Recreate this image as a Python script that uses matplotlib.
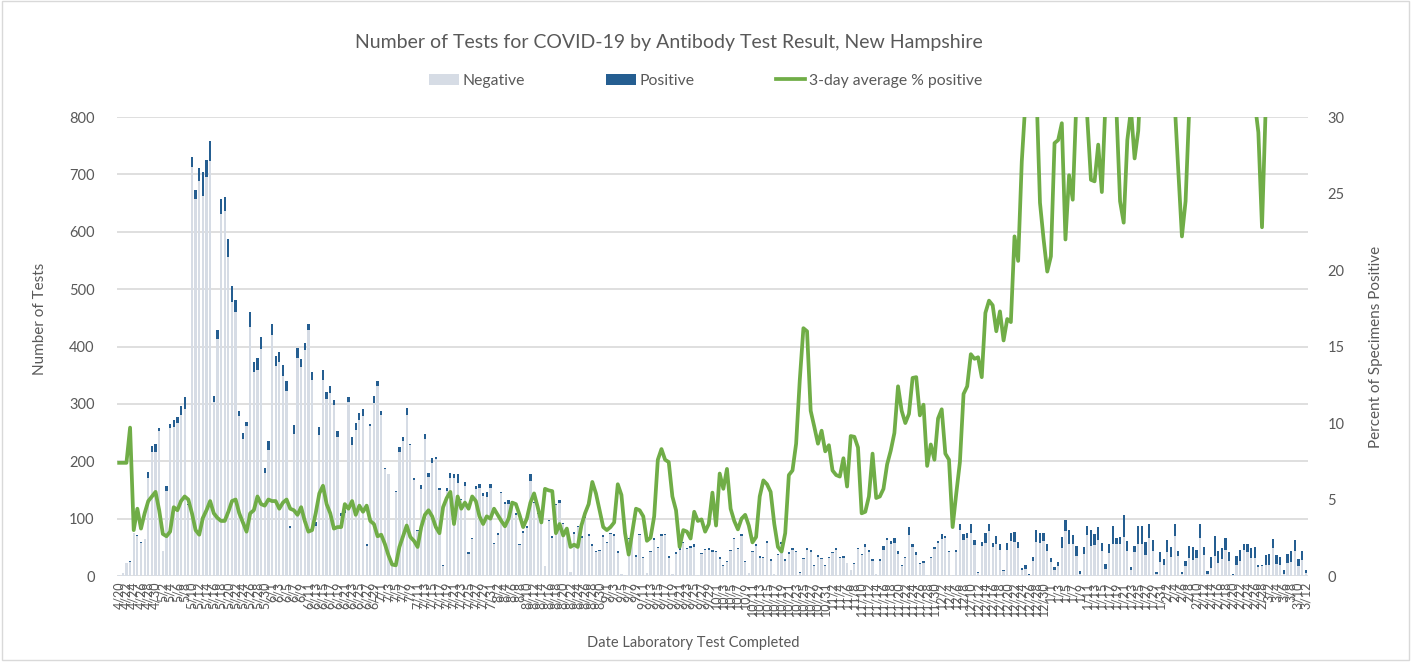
import datetime as dt
import matplotlib
matplotlib.use("Agg")
import matplotlib.pyplot as plt
from matplotlib.patches import Rectangle

plt.rcParams['font.family'] = ['Lato', 'DejaVu Sans']

# daily data, 4/20/2020 .. 3/12/2021
start = dt.date(2020, 4, 20)
total = [
    2, 6, 23, 27, 75, 71, 60, 65, 182, 226,
    230, 258, 43, 157, 265, 272, 278, 296, 312, 126,
    731, 673, 712, 704, 726, 758, 313, 429, 657, 660,
    587, 505, 481, 287, 249, 268, 460, 373, 380, 416,
    189, 236, 439, 384, 391, 368, 340, 88, 264, 398,
    379, 406, 439, 355, 94, 260, 360, 321, 332, 306,
    252, 109, 115, 312, 242, 267, 285, 291, 55, 265,
    313, 340, 287, 189, 178, 20, 149, 225, 242, 293,
    231, 171, 80, 158, 247, 180, 205, 208, 153, 20,
    153, 180, 177, 177, 135, 164, 41, 66, 157, 160,
    145, 147, 160, 58, 75, 147, 129, 132, 131, 109,
    56, 78, 88, 177, 129, 110, 100, 17, 98, 69,
    126, 132, 93, 85, 7, 76, 88, 69, 104, 73,
    55, 43, 46, 71, 59, 75, 74, 44, 3, 2,
    67, 77, 37, 74, 33, 5, 43, 66, 51, 73,
    74, 35, 3, 41, 48, 60, 49, 52, 55, 2,
    40, 47, 49, 46, 44, 33, 19, 26, 46, 67,
    49, 74, 26, 5, 44, 55, 35, 33, 61, 29,
    3, 38, 59, 29, 42, 48, 44, 7, 32, 48,
    45, 19, 37, 32, 19, 33, 42, 49, 33, 35,
    23, 11, 23, 49, 38, 56, 46, 30, 4, 29,
    52, 67, 61, 67, 44, 19, 33, 85, 55, 41,
    23, 26, 2, 33, 51, 61, 74, 69, 44, 2,
    45, 91, 73, 75, 91, 63, 7, 60, 75, 91,
    58, 69, 56, 11, 58, 75, 77, 60, 14, 19,
    3, 34, 81, 75, 75, 55, 32, 16, 24, 68,
    97, 81, 72, 52, 8, 51, 88, 81, 74, 85,
    58, 21, 56, 87, 66, 68, 106, 61, 16, 52,
    87, 87, 59, 91, 62, 7, 41, 29, 62, 51,
    91, 44, 7, 26, 52, 51, 46, 90, 51, 8,
    33, 70, 44, 49, 67, 41, 4, 35, 46, 55,
    56, 49, 51, 19, 20, 36, 38, 65, 36, 33,
    11, 38, 44, 63, 30, 44, 10,
]
positive = [
    0, 1, 0, 2, 0, 2, 2, 0, 12, 9,
    13, 6, 0, 8, 7, 12, 12, 15, 20, 2,
    18, 16, 23, 41, 31, 35, 10, 16, 26, 24,
    31, 27, 20, 8, 10, 7, 26, 18, 20, 20,
    9, 16, 18, 18, 18, 20, 18, 4, 16, 18,
    14, 12, 10, 13, 7, 15, 19, 12, 13, 8,
    10, 4, 5, 9, 13, 12, 13, 12, 3, 3,
    12, 9, 7, 3, 0, 0, 3, 9, 6, 12,
    3, 3, 2, 6, 9, 8, 8, 4, 3, 3,
    4, 9, 6, 14, 3, 7, 2, 2, 6, 6,
    5, 9, 6, 3, 3, 3, 4, 7, 2, 3,
    2, 3, 4, 12, 2, 2, 2, 0, 2, 2,
    3, 4, 2, 2, 0, 2, 3, 2, 3, 3,
    3, 2, 2, 3, 2, 2, 5, 4, 0, 0,
    3, 2, 3, 3, 2, 0, 2, 3, 3, 3,
    3, 3, 0, 2, 2, 3, 2, 3, 4, 0,
    2, 2, 3, 4, 2, 3, 2, 2, 2, 2,
    2, 4, 2, 0, 2, 3, 3, 2, 3, 3,
    0, 2, 3, 2, 3, 3, 3, 1, 3, 3,
    3, 2, 3, 3, 1, 2, 2, 4, 2, 3,
    1, 1, 2, 2, 2, 5, 4, 3, 0, 2,
    6, 4, 6, 9, 6, 1, 2, 13, 4, 4,
    2, 3, 0, 2, 4, 4, 9, 2, 2, 0,
    3, 10, 10, 9, 16, 9, 2, 7, 17, 13,
    7, 14, 10, 2, 13, 14, 17, 11, 4, 6,
    1, 8, 21, 17, 14, 11, 8, 5, 6, 19,
    19, 26, 17, 17, 4, 13, 17, 28, 20, 23,
    15, 9, 16, 31, 11, 13, 38, 17, 6, 10,
    31, 31, 22, 25, 19, 4, 16, 10, 20, 17,
    22, 9, 3, 9, 20, 23, 15, 24, 14, 4,
    19, 35, 22, 19, 22, 15, 3, 16, 19, 10,
    15, 18, 19, 4, 2, 17, 19, 17, 15, 13,
    7, 16, 19, 19, 13, 16, 4,
]
negative = [t - p for t, p in zip(total, positive)]

pct_positive = [
    7.4, 7.4, 7.4, 9.7, 3.0, 4.4, 3.1, 4.1, 4.9, 5.2,
    5.5, 4.3, 2.75, 2.6, 2.9, 4.5, 4.3, 4.9, 5.2, 5.0,
    4.1, 3.0, 2.7, 3.8, 4.3, 4.9, 4.1, 3.8, 3.6, 3.6,
    4.2, 4.9, 5.0, 4.1, 3.5, 2.9, 4.1, 4.3, 5.2, 4.7,
    4.6, 5.0, 4.9, 4.9, 4.4, 4.8, 5.0, 4.4, 4.3, 4.0,
    4.5, 3.6, 2.9, 3.0, 4.1, 5.4, 5.9, 4.7, 4.1, 3.1,
    3.2, 3.2, 4.7, 4.4, 4.9, 4.0, 4.6, 4.2, 4.6, 3.6,
    3.4, 2.6, 2.7, 2.1, 1.35, 0.75, 0.7, 1.9, 2.6, 3.3,
    2.55, 2.3, 1.9, 3.2, 4.0, 4.3, 3.9, 3.2, 2.8, 4.5,
    5.1, 5.5, 3.4, 5.2, 4.4, 4.8, 4.4, 5.2, 4.9, 3.9,
    3.4, 3.9, 3.75, 4.4, 4.0, 3.6, 3.25, 3.75, 4.8, 4.7,
    4.0, 3.2, 3.75, 4.8, 5.4, 4.5, 3.5, 5.7, 5.6, 5.55,
    2.8, 3.4, 2.65, 3.1, 1.9, 2.05, 1.9, 3.3, 4.1, 4.7,
    6.15, 5.4, 4.3, 3.2, 3.0, 3.2, 3.5, 6.0, 5.3, 2.8,
    1.4, 2.9, 4.4, 4.3, 3.9, 2.3, 2.5, 3.9, 7.6, 8.3,
    7.6, 7.45, 5.2, 4.3, 1.9, 3.0, 2.9, 2.45, 4.2, 3.6,
    3.7, 2.9, 3.4, 5.45, 3.3, 6.7, 5.7, 7.0, 4.4, 3.6,
    3.05, 3.75, 4.0, 3.3, 2.2, 2.55, 5.2, 6.25, 6.0, 5.5,
    3.4, 1.9, 1.6, 2.8, 6.6, 6.9, 8.65, 12.8, 16.2, 16.0,
    10.8, 9.75, 8.65, 9.5, 8.15, 8.55, 6.9, 6.6, 6.5, 7.7,
    5.85, 9.15, 9.1, 8.4, 4.1, 4.2, 5.2, 8.0, 5.1, 5.2,
    5.7, 7.3, 8.2, 9.35, 12.4, 10.8, 10.0, 10.6, 12.95, 13.0,
    10.5, 11.2, 7.2, 8.6, 7.6, 10.3, 10.9, 8.0, 7.6, 3.2,
    5.4, 7.45, 11.9, 12.4, 14.5, 14.2, 14.3, 13.0, 17.2, 18.0,
    17.7, 16.0, 17.3, 15.4, 16.8, 16.6, 22.2, 20.6, 27.1, 31.0,
    36.0, 38.0, 32.0, 24.4, 22.0, 19.9, 20.9, 28.3, 28.5, 29.6,
    22.0, 26.2, 24.6, 31.0, 35.0, 34.0, 30.0, 25.9, 25.8, 28.2,
    25.1, 31.0, 35.0, 33.0, 30.5, 24.5, 23.1, 28.5, 30.5, 27.3,
    29.1, 34.0, 36.0, 38.0, 40.0, 38.0, 36.0, 37.0, 35.0, 33.0,
    31.0, 26.5, 22.2, 24.5, 30.5, 35.0, 38.0, 40.0, 40.0, 38.0,
    36.0, 38.0, 40.0, 40.0, 38.0, 36.0, 38.0, 40.0, 38.0, 36.0,
    35.0, 33.0, 31.0, 29.0, 22.8, 30.5, 33.0, 36.0, 38.0, 40.0,
    40.0, 38.0, 40.0, 42.0, 40.0, 38.0, 40.0,
]

dates = [start + dt.timedelta(days=k) for k in range(len(total))]
labels = [f"{d.month}/{d.day}" for d in dates]
x = list(range(len(dates)))

grey = '#595959'
fig = plt.figure(figsize=(14.11, 6.68), dpi=100)
fig.patches.append(Rectangle((0.0015, 0.012), 0.997, 0.986, transform=fig.transFigure,
                             fill=False, edgecolor='#d9d9d9', lw=1))

ax = fig.add_axes([0.0829, 0.1377, 0.844, 0.687])
ax.bar(x, negative, width=0.62, color='#d6dce5', label='Negative', zorder=2)
ax.bar(x, positive, bottom=negative, width=0.62, color='#255e91', label='Positive', zorder=2)
ax.set_ylim(0, 800)
ax.set_xlim(-0.6, len(x) - 0.4)
ax.set_yticks(range(0, 801, 100))
ax.yaxis.grid(True, color='#d9d9d9', lw=1.2, zorder=0)
ax.set_axisbelow(True)
for s in ax.spines.values():
    s.set_visible(False)
ax.set_xticks(x[::2])
ax.set_xticklabels(labels[::2], rotation=90, fontsize=9, color=grey)
ax.tick_params(axis='both', length=0, colors=grey)
ax.tick_params(axis='y', labelsize=10.5, pad=16)
ax.tick_params(axis='x', pad=4)
ax.set_ylabel('Number of Tests', fontsize=11, color=grey)
ax.yaxis.set_label_coords(-0.059, 0.56)
ax.set_xlabel('Date Laboratory Test Completed', fontsize=10.5, color=grey)
ax.xaxis.set_label_coords(0.484, -0.13)

ax2 = ax.twinx()
ax2.plot(x, pct_positive, color='#70ad47', lw=2.7, label='3-day average % positive',
         solid_joinstyle='round', zorder=3)
ax2.set_ylim(0, 30)
ax2.set_yticks(range(0, 31, 5))
for s in ax2.spines.values():
    s.set_visible(False)
ax2.tick_params(axis='y', length=0, colors=grey, labelsize=10.5, pad=14)
ax2.set_ylabel('Percent of Specimens Positive', fontsize=11, color=grey, labelpad=18)

fig.text(0.474, 0.937, 'Number of Tests for COVID-19 by Antibody Test Result, New Hampshire',
         ha='center', va='center', fontsize=14, color=grey)

h1, l1 = ax.get_legend_handles_labels()
h2, l2 = ax2.get_legend_handles_labels()
fig.legend(h1 + h2, l1 + l2, loc='center', bbox_to_anchor=(0.5, 0.879), ncol=3,
           frameon=False, fontsize=11.3, labelcolor=grey, handlelength=1.9,
           handleheight=0.75, handletextpad=0.2, columnspacing=5.2)

fig.savefig('out.png', dpi=100)
